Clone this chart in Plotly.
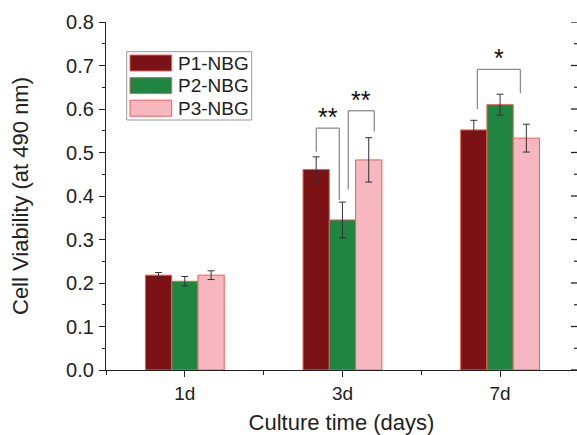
import plotly.graph_objects as go

# ---- data ----
categories = ["1d", "3d", "7d"]
series_names = ["P1-NBG", "P2-NBG", "P3-NBG"]
p1_values = [0.218, 0.461, 0.552]
p2_values = [0.204, 0.345, 0.610]
p3_values = [0.218, 0.483, 0.533]
p1_errors = [0.006, 0.029, 0.022]
p2_errors = [0.011, 0.041, 0.024]
p3_errors = [0.010, 0.051, 0.032]
y_ticks = [0.0, 0.1, 0.2, 0.3, 0.4, 0.5, 0.6, 0.7, 0.8]

# significance brackets: (x_left, x_right, y_top, y_left_bottom, y_right_bottom, label)
brackets = [
    (0.834, 0.980, 0.556, 0.502, 0.391, "**"),
    (1.037, 1.202, 0.596, 0.415, 0.548, "**"),
    (1.856, 2.129, 0.691, 0.600, 0.636, "*"),
]

colors = ["#7A1216", "#1F8541", "#F6B7C1"]
edge = "#E9624E"
FONT = "Liberation Sans, Arial, sans-serif"
TXT = "#222222"

values = [p1_values, p2_values, p3_values]
errors = [p1_errors, p2_errors, p3_errors]
xpos = list(range(len(categories)))

FIG_W, FIG_H = 577, 435
ML, MT, MB, MR = 106, 22, 65, 0
PW, PH = FIG_W - ML - MR, FIG_H - MT - MB

fig = go.Figure()
for name, vals, errs, col in zip(series_names, values, errors, colors):
    fig.add_trace(go.Bar(
        x=xpos, y=vals, name=name, offsetgroup=name,
        marker=dict(color=col, line=dict(color=edge, width=1)),
        error_y=dict(type="data", array=errs, color="#333333", thickness=1, width=3.5),
        showlegend=False, hoverinfo="skip",
    ))

# right-hand frame ticks (inward), one per major and minor y tick
for i, t in enumerate(y_ticks):
    fig.add_shape(type="line", xref="paper", yref="y", x0=1 - 6 / PW, x1=1, y0=t, y1=t,
                  line=dict(color="#222", width=1.3), layer="above")
    if i < len(y_ticks) - 1:
        m = (t + y_ticks[i + 1]) / 2
        fig.add_shape(type="line", xref="paper", yref="y", x0=1 - 3 / PW, x1=1, y0=m, y1=m,
                      line=dict(color="#222", width=1.2), layer="above")

# brackets
for xl, xr, yt, ybl, ybr, lab in brackets:
    for (x0, x1, y0, y1) in [(xl, xl, ybl, yt), (xl, xr, yt, yt), (xr, xr, ybr, yt)]:
        fig.add_shape(type="line", x0=x0, x1=x1, y0=y0, y1=y1, xref="x", yref="y",
                      line=dict(color="#8C8C8C", width=1.3))
    fig.add_annotation(x=(xl + xr) / 2, y=yt, xref="x", yref="y", text=lab,
                       showarrow=False, yanchor="bottom", yshift=-5,
                       font=dict(family=FONT, size=25, color="#111111"))

# custom legend (wide swatches like the original); positions in page pixels
def px(x):
    return (x - ML) / PW
def py(y):
    return (MT + PH - y) / PH

fig.add_shape(type="rect", xref="paper", yref="paper",
              x0=px(126.7), x1=px(251.7), y0=py(120), y1=py(51.7),
              line=dict(color="#9A9A9A", width=1), fillcolor="white", layer="above")
for i, (name, col) in enumerate(zip(series_names, colors)):
    top = 55 + i * 22.6
    fig.add_shape(type="rect", xref="paper", yref="paper",
                  x0=px(130), x1=px(171.7), y0=py(top + 16), y1=py(top),
                  line=dict(color=edge, width=1), fillcolor=col, layer="above")
    fig.add_annotation(xref="paper", yref="paper", x=px(176), y=py(top + 8),
                       text=name, showarrow=False, xanchor="left", yanchor="middle",
                       font=dict(family=FONT, size=19, color=TXT))

fig.update_layout(
    width=FIG_W, height=FIG_H,
    margin=dict(l=ML, r=MR, t=MT, b=MB),
    paper_bgcolor="white", plot_bgcolor="white",
    barmode="group", bargap=0.5, bargroupgap=0,
    font=dict(family=FONT, size=19, color=TXT),
    xaxis=dict(
        range=[-0.5, 2.488], tickvals=xpos, ticktext=categories,
        ticks="outside", ticklen=6, tickwidth=1.3, tickcolor="#222",
        minor=dict(dtick=0.5, tick0=0, ticks="outside", ticklen=4, tickwidth=1.2, tickcolor="#222"),
        showline=True, linecolor="#222", linewidth=1.3, showgrid=False, zeroline=False,
        tickfont=dict(size=19, color=TXT), automargin=False,
        title=dict(text="Culture time (days)", font=dict(size=22, color=TXT), standoff=13),
    ),
    yaxis=dict(
        range=[0, 0.8], tickvals=y_ticks, tickformat=".1f",
        ticks="outside", ticklen=6, tickwidth=1.3, tickcolor="#222",
        minor=dict(dtick=0.05, tick0=0, ticks="outside", ticklen=3, tickwidth=1.2, tickcolor="#222"),
        showline=True, linecolor="#222", linewidth=1.3, showgrid=False, zeroline=False,
        tickfont=dict(size=20, color=TXT), ticklabelstandoff=1, automargin=False,
        title=dict(text="Cell Viability (at 490 nm)", font=dict(size=22, color=TXT), standoff=31),
    ),
)

# remove the browser's default 8px page margin so the figure fills the window exactly
fig.write_html("out.html", config={"displayModeBar": False},
               post_script="document.body.style.margin='0';")
